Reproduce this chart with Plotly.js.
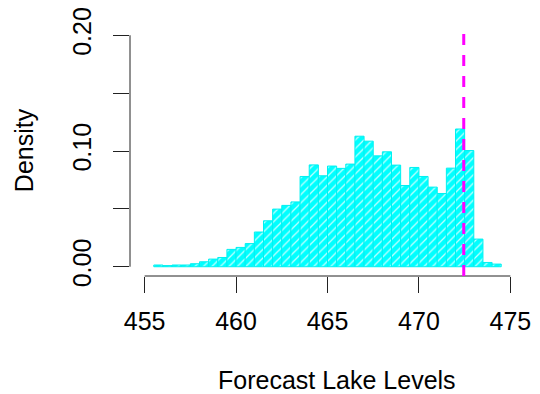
<!DOCTYPE html>
<html>
<head>
<meta charset="utf-8">
<script src="https://cdn.plot.ly/plotly-3.0.1.min.js"></script>
<style>html,body{margin:0;padding:0;background:#fff}#chart{width:540px;height:394px}</style>
</head>
<body>
<div id="chart"></div>
<script>
// Histogram of forecast lake levels (bin width 0.5)
var binMids = [455.75,456.25,456.75,457.25,457.75,458.25,458.75,459.25,459.75,460.25,
               460.75,461.25,461.75,462.25,462.75,463.25,463.75,464.25,464.75,465.25,
               465.75,466.25,466.75,467.25,467.75,468.25,468.75,469.25,469.75,470.25,
               470.75,471.25,471.75,472.25,472.75,473.25,473.75,474.25];
var densities = [0.0015,0.0010,0.0015,0.0015,0.0026,0.0043,0.0066,0.0080,0.0150,0.0167,
                 0.0200,0.0300,0.0397,0.0498,0.0530,0.0560,0.0780,0.0880,0.0786,0.0870,
                 0.0850,0.0887,0.1128,0.1085,0.0958,0.0993,0.0878,0.0702,0.0858,0.0780,
                 0.0688,0.0633,0.0852,0.1190,0.1004,0.0239,0.0037,0.0023];
var currentLevel = 472.45;
var xTickVals = [455,460,465,470,475];
var yTickVals = [0,0.05,0.10,0.15,0.20];
var yTickText = ["0.00","","0.10","","0.20"];
var xTitle = "Forecast Lake Levels";
var yTitle = "Density";

var font = {family: "Liberation Sans, Arial, sans-serif", size: 25, color: "#000"};

var trace = {
  type: "bar",
  x: binMids,
  y: densities,
  width: 0.5,
  marker: {
    color: "#00ffff",
    line: {color: "#00f0f0", width: 1},
    pattern: {shape: "/", bgcolor: "#00ffff", fgcolor: "#c0ffff", size: 6, solidity: 0.22}
  },
  hoverinfo: "x+y",
  showlegend: false
};

var layout = {
  width: 540, height: 394,
  margin: {l: 130, r: 15, t: 26, b: 118},
  paper_bgcolor: "#fff", plot_bgcolor: "#fff",
  font: font,
  bargap: 0,
  xaxis: {
    range: [454.2, 475.8],
    tickvals: xTickVals,
    ticktext: xTickVals.map(String),
    ticks: "outside", ticklen: 16, tickwidth: 1, tickcolor: "#222",
    showline: false, showgrid: false, zeroline: false,
    tickfont: font,
    ticklabelstandoff: 7
  },
  yaxis: {
    range: [-0.008, 0.208],
    tickvals: yTickVals,
    ticktext: yTickText,
    tickangle: -90,
    ticks: "outside", ticklen: 16, tickwidth: 1, tickcolor: "#222",
    showline: false, showgrid: false, zeroline: false,
    tickfont: font,
    ticklabelstandoff: 12
  },
  shapes: [
    {type: "line", xref: "x", yref: "paper", x0: 455, x1: 475, y0: 0, y1: 0,
     line: {color: "#222", width: 1}},
    {type: "line", xref: "paper", yref: "y", x0: 0, x1: 0, y0: 0, y1: 0.2,
     line: {color: "#222", width: 1}},
    {type: "line", xref: "x", yref: "paper", x0: currentLevel, x1: currentLevel, y0: 0, y1: 1,
     line: {color: "#ff00ff", width: 3, dash: "11px,10px"}}
  ],
  annotations: [
    {text: xTitle, xref: "paper", yref: "paper", x: 0.523, y: -0.414,
     xanchor: "center", yanchor: "middle", showarrow: false, font: font},
    {text: yTitle, xref: "paper", yref: "paper", x: -0.268, y: 0.504,
     xanchor: "center", yanchor: "middle", textangle: -90, showarrow: false, font: font}
  ]
};

Plotly.newPlot("chart", [trace], layout, {displayModeBar: false, staticPlot: true});
</script>
</body>
</html>
